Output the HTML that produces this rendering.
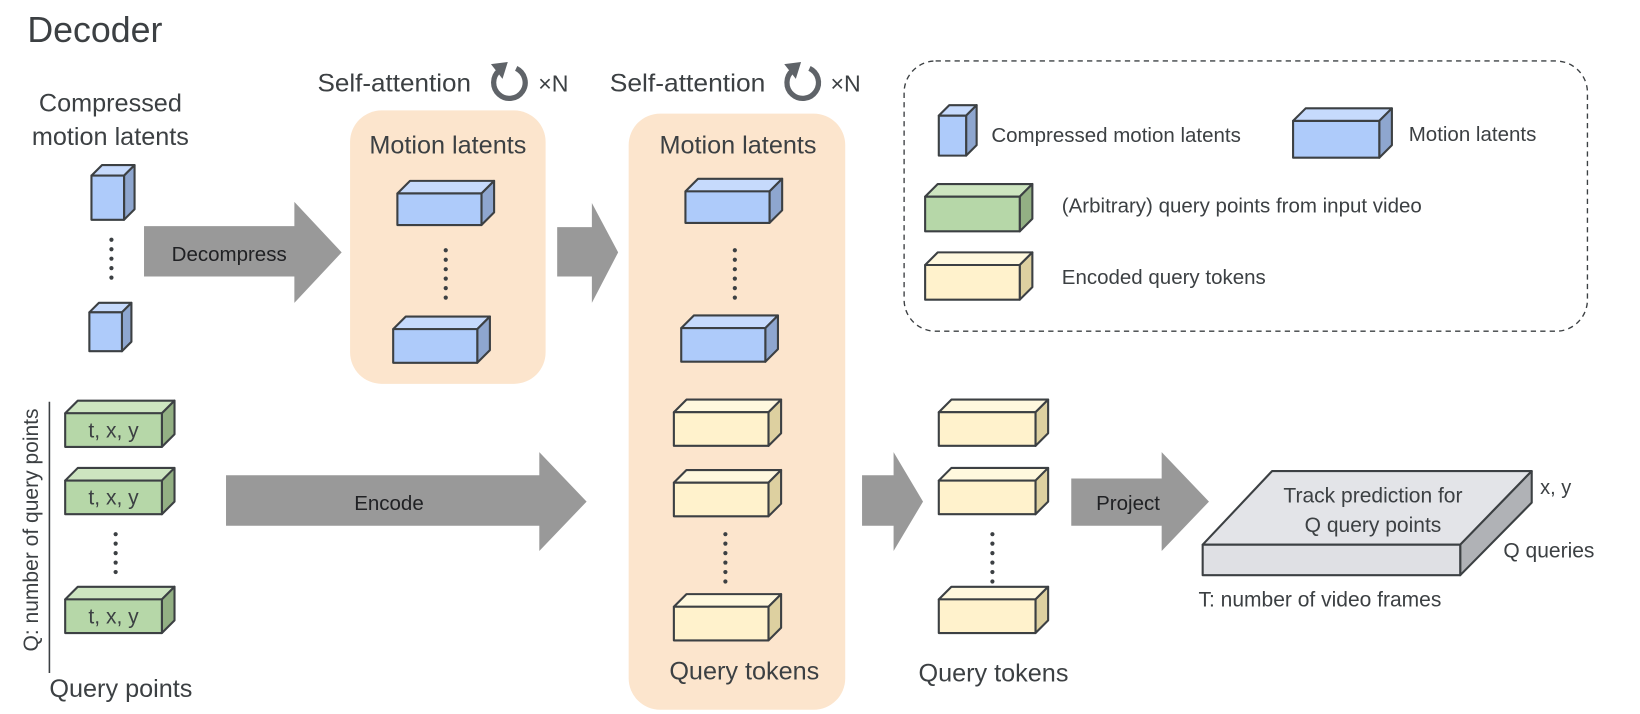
<!DOCTYPE html>
<html><head><meta charset="utf-8"><style>
html,body{margin:0;padding:0;background:#fff;}
svg{display:block;}
text{font-family:"Liberation Sans",sans-serif;fill:#3c4043;}
.b .f{fill:#aecbfa}.b .t{fill:#c6dafc}.b .s{fill:#8ea6cf}
.g .f{fill:#b6d7a8}.g .t{fill:#cde5c0}.g .s{fill:#93b084}
.y .f{fill:#fff2cc}.y .t{fill:#fff8de}.y .s{fill:#ddd0a0}
.b *,.g *,.y *{stroke:#3c4043;stroke-width:2;stroke-linejoin:round}
.arr{fill:#999}
</style></head><body>
<svg width="1640" height="714" viewBox="0 0 1560 679" preserveAspectRatio="none" xmlns="http://www.w3.org/2000/svg">
<text x="26" y="40" font-size="34">Decoder</text>
<text x="105" y="106" font-size="24" text-anchor="middle">Compressed</text>
<text x="105" y="138" font-size="24" text-anchor="middle">motion latents</text>

<rect x="333" y="105" width="186" height="260" rx="30" fill="#fce5cd"/>
<rect x="598" y="108" width="206" height="567" rx="30" fill="#fce5cd"/>
<text x="426" y="146" font-size="24" text-anchor="middle">Motion latents</text>
<text x="702" y="146" font-size="24" text-anchor="middle">Motion latents</text>
<text x="708" y="646" font-size="24" text-anchor="middle">Query tokens</text>

<text x="302" y="87" font-size="24" textLength="146" lengthAdjust="spacingAndGlyphs">Self-attention</text>
<text x="512" y="87" font-size="22">×N</text>
<text x="580" y="87" font-size="24" textLength="148" lengthAdjust="spacingAndGlyphs">Self-attention</text>
<text x="790" y="87" font-size="22">×N</text>
<g fill="none" stroke="#5f6368" stroke-width="5">
<path d="M475,67 A15,15 0 1 0 491,65"/>
<path d="M754,67 A15,15 0 1 0 770,65"/>
</g>
<polygon points="467,61 483,59 478,75" fill="#5f6368"/>
<polygon points="746,61 762,59 757,75" fill="#5f6368"/>

<polygon class="arr" points="137,215 280,215 280,192 325,240 280,288 280,263 137,263"/>
<polygon class="arr" points="530,216 563,216 563,193 588,240 563,288 563,263 530,263"/>
<polygon class="arr" points="215,452 513,452 513,430 558,477 513,524 513,500 215,500"/>
<polygon class="arr" points="820,452 850,452 850,430 878,477 850,524 850,500 820,500"/>
<polygon class="arr" points="1019,455 1105,455 1105,430 1150,477 1105,524 1105,500 1019,500"/>
<text x="218" y="248" font-size="19.5" text-anchor="middle" style="fill:#202124">Decompress</text>
<text x="370" y="485" font-size="19.5" text-anchor="middle" style="fill:#202124">Encode</text>
<text x="1073" y="485" font-size="19.5" text-anchor="middle" style="fill:#202124">Project</text>

<g class="b">
<polygon class="t" points="87,167 97,157 128,157 118,167"/><polygon class="s" points="118,167 128,157 128,199 118,209"/><rect class="f" x="87" y="167" width="31" height="42"/>
<polygon class="t" points="85,297 94,288 125,288 116,297"/><polygon class="s" points="116,297 125,288 125,325 116,334"/><rect class="f" x="85" y="297" width="31" height="37"/>
<polygon class="t" points="378,184 390,172 470,172 458,184"/><polygon class="s" points="458,184 470,172 470,202 458,214"/><rect class="f" x="378" y="184" width="80" height="30"/>
<polygon class="t" points="374,313 386,301 466,301 454,313"/><polygon class="s" points="454,313 466,301 466,333 454,345"/><rect class="f" x="374" y="313" width="80" height="32"/>
<polygon class="t" points="652,182 664,170 744,170 732,182"/><polygon class="s" points="732,182 744,170 744,200 732,212"/><rect class="f" x="652" y="182" width="80" height="30"/>
<polygon class="t" points="648,312 660,300 740,300 728,312"/><polygon class="s" points="728,312 740,300 740,332 728,344"/><rect class="f" x="648" y="312" width="80" height="32"/>
<polygon class="t" points="893,110 903,100 929,100 919,110"/><polygon class="s" points="919,110 929,100 929,138 919,148"/><rect class="f" x="893" y="110" width="26" height="38"/>
<polygon class="t" points="1230,115 1242,103 1324,103 1312,115"/><polygon class="s" points="1312,115 1324,103 1324,138 1312,150"/><rect class="f" x="1230" y="115" width="82" height="35"/>
</g>
<g class="y">
<polygon class="t" points="641,392 653,380 743,380 731,392"/><polygon class="s" points="731,392 743,380 743,412 731,424"/><rect class="f" x="641" y="392" width="90" height="32"/>
<polygon class="t" points="641,459 653,447 743,447 731,459"/><polygon class="s" points="731,459 743,447 743,479 731,491"/><rect class="f" x="641" y="459" width="90" height="32"/>
<polygon class="t" points="641,577 653,565 743,565 731,577"/><polygon class="s" points="731,577 743,565 743,597 731,609"/><rect class="f" x="641" y="577" width="90" height="32"/>
<polygon class="t" points="893,392 905,380 997,380 985,392"/><polygon class="s" points="985,392 997,380 997,412 985,424"/><rect class="f" x="893" y="392" width="92" height="32"/>
<polygon class="t" points="893,457 905,445 997,445 985,457"/><polygon class="s" points="985,457 997,445 997,477 985,489"/><rect class="f" x="893" y="457" width="92" height="32"/>
<polygon class="t" points="893,570 905,558 997,558 985,570"/><polygon class="s" points="985,570 997,558 997,590 985,602"/><rect class="f" x="893" y="570" width="92" height="32"/>
<polygon class="t" points="880,252 892,240 982,240 970,252"/><polygon class="s" points="970,252 982,240 982,273 970,285"/><rect class="f" x="880" y="252" width="90" height="33"/>
</g>
<g class="g">
<polygon class="t" points="62,393 74,381 166,381 154,393"/><polygon class="s" points="154,393 166,381 166,413 154,425"/><rect class="f" x="62" y="393" width="92" height="32"/>
<polygon class="t" points="62,457 74,445 166,445 154,457"/><polygon class="s" points="154,457 166,445 166,477 154,489"/><rect class="f" x="62" y="457" width="92" height="32"/>
<polygon class="t" points="62,570 74,558 166,558 154,570"/><polygon class="s" points="154,570 166,558 166,590 154,602"/><rect class="f" x="62" y="570" width="92" height="32"/>
<polygon class="t" points="880,187 892,175 982,175 970,187"/><polygon class="s" points="970,187 982,175 982,208 970,220"/><rect class="f" x="880" y="187" width="90" height="33"/>
</g>
<text x="108" y="416" font-size="20" text-anchor="middle">t, x, y</text>
<text x="108" y="480" font-size="20" text-anchor="middle">t, x, y</text>
<text x="108" y="593" font-size="20" text-anchor="middle">t, x, y</text>

<g fill="#3c4043">
<circle cx="106" cy="228" r="2"/><circle cx="106" cy="237" r="2"/><circle cx="106" cy="246" r="2"/><circle cx="106" cy="255" r="2"/><circle cx="106" cy="264" r="2"/>
<circle cx="424" cy="238" r="2"/><circle cx="424" cy="247" r="2"/><circle cx="424" cy="256" r="2"/><circle cx="424" cy="265" r="2"/><circle cx="424" cy="274" r="2"/><circle cx="424" cy="283" r="2"/>
<circle cx="699" cy="238" r="2"/><circle cx="699" cy="247" r="2"/><circle cx="699" cy="256" r="2"/><circle cx="699" cy="265" r="2"/><circle cx="699" cy="274" r="2"/><circle cx="699" cy="283" r="2"/>
<circle cx="690" cy="508" r="2"/><circle cx="690" cy="517" r="2"/><circle cx="690" cy="526" r="2"/><circle cx="690" cy="535" r="2"/><circle cx="690" cy="544" r="2"/><circle cx="690" cy="553" r="2"/>
<circle cx="944" cy="508" r="2"/><circle cx="944" cy="517" r="2"/><circle cx="944" cy="526" r="2"/><circle cx="944" cy="535" r="2"/><circle cx="944" cy="544" r="2"/><circle cx="944" cy="553" r="2"/>
<circle cx="110" cy="508" r="2"/><circle cx="110" cy="517" r="2"/><circle cx="110" cy="526" r="2"/><circle cx="110" cy="535" r="2"/><circle cx="110" cy="544" r="2"/>
</g>

<line x1="47" y1="382" x2="47" y2="640" stroke="#3c4043" stroke-width="1.5"/>
<text transform="translate(36,504) rotate(-90)" font-size="20" text-anchor="middle">Q: number of query points</text>
<text x="115" y="663" font-size="24" text-anchor="middle">Query points</text>
<text x="945" y="648" font-size="24" text-anchor="middle">Query tokens</text>

<g stroke="#3c4043" stroke-width="2" stroke-linejoin="round">
<polygon points="1210,448 1457,448 1389,518 1144,518" fill="#e3e4e8"/>
<polygon points="1389,518 1457,448 1457,478 1389,547" fill="#b0b2b6"/>
<rect x="1144" y="518" width="245" height="29" fill="#dfe0e4"/>
</g>
<text x="1306" y="478" font-size="20" text-anchor="middle">Track prediction for</text>
<text x="1306" y="506" font-size="20" text-anchor="middle">Q query points</text>
<text x="1465" y="470" font-size="19">x, y</text>
<text x="1430" y="530" font-size="20">Q queries</text>
<text x="1140" y="577" font-size="20">T: number of video frames</text>

<rect x="860" y="58" width="650" height="257" rx="30" fill="none" stroke="#3c4043" stroke-width="1.3" stroke-dasharray="5,4"/>
<text x="943" y="135" font-size="19.5">Compressed motion latents</text>
<text x="1340" y="134" font-size="19.5">Motion latents</text>
<text x="1010" y="202" font-size="19.5">(Arbitrary) query points from input video</text>
<text x="1010" y="270" font-size="19.5">Encoded query tokens</text>
</svg>
</body></html>
